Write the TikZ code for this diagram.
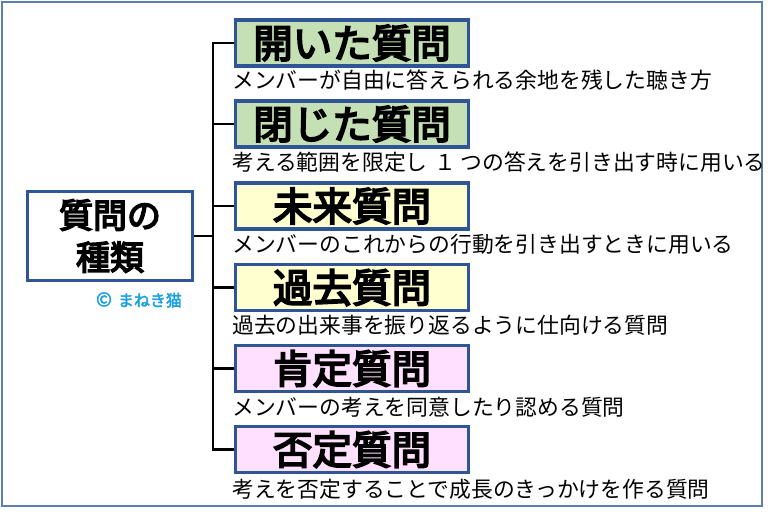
\documentclass[tikz,border=0pt]{standalone}
\usepackage{fontspec}
\newfontfamily\cjk[AutoFakeBold=2.5]{Noto Sans CJK JP}
\newfontfamily\cjkfuto[AutoFakeBold=4.5]{Noto Sans CJK JP}
\definecolor{waku}{HTML}{2F5597}
\definecolor{soto}{HTML}{5B7DB1}
\definecolor{midori}{HTML}{C5E0B4}
\definecolor{kiiro}{HTML}{FFFFD0}
\definecolor{momo}{HTML}{FFE0FF}
\definecolor{neko}{HTML}{1CA0E0}
\begin{document}
\begin{tikzpicture}[
    x=1pt,
    y=-1pt,
    font=\cjk,
    shurui/.style={draw=waku,line width=3.5pt,minimum width=233pt,minimum height=46pt,
        inner sep=0pt,font=\cjkfuto\bfseries\fontsize{39.5}{40}\selectfont},
    setsumei/.style={anchor=west,inner sep=0pt,font=\cjk\fontsize{21.8}{22}\selectfont},
    eda/.style={line width=2.8pt}
]
    \useasboundingbox (0,0) rectangle (768,516);
    \draw[soto,line width=1.5pt,fill=white] (2,2) rectangle (762,506);

    \node[draw=waku,fill=white,line width=3.5pt,minimum width=165pt,minimum height=89pt,
        align=center,inner sep=0pt,font=\cjkfuto\bfseries\fontsize{34}{42}\selectfont]
        (shitsumon) at (110,236) {質問の\\種類};
    \node[text=neko,font=\cjk\bfseries\fontsize{16}{17}\selectfont] (neko) at (139,300)
        {{\fontsize{19}{19}\selectfont ©}\hspace{6pt}まねき猫};

    \node[shurui,fill=midori] (hiraita) at (352,43) {開いた質問};
    \node[shurui,fill=midori] (tojita) at (352,124) {閉じた質問};
    \node[shurui,fill=kiiro] (mirai) at (352,206) {未来質問};
    \node[shurui,fill=kiiro] (kako) at (352,287.5) {過去質問};
    \node[shurui,fill=momo] (kotei) at (352,368.5) {肯定質問};
    \node[shurui,fill=momo] (hitei) at (352,449.5) {否定質問};

    \node[setsumei] (s1) at (232,80) {メンバーが自由に答えられる余地を残した聴き方};
    \node[setsumei] (s2) at (232,162) {考える範囲を限定し\hspace{7pt}１\hspace{4pt}つの答えを引き出す時に用いる};
    \node[setsumei] (s3) at (232,244) {メンバーのこれからの行動を引き出すときに用いる};
    \node[setsumei] (s4) at (232,325) {過去の出来事を振り返るように仕向ける質問};
    \node[setsumei] (s5) at (232,407) {メンバーの考えを同意したり認める質問};
    \node[setsumei] (s6) at (232,489) {考えを否定することで成長のきっかけを作る質問};

    \coordinate (miki) at (213,236);
    \draw[eda] (shitsumon.east) -- (miki);
    \draw[eda] (hiraita.west) -| (miki);
    \draw[eda] (hitei.west) -| (miki);
    \foreach \n in {tojita,mirai,kako,kotei}
        \draw[eda] (\n.west) -- (\n.west -| miki);
\end{tikzpicture}
\end{document}
